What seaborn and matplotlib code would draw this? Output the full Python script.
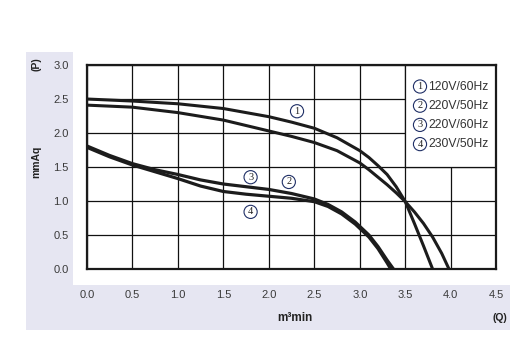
import matplotlib
matplotlib.use("Agg")
import matplotlib.pyplot as plt
import seaborn as sns
from matplotlib.patches import Rectangle

# flow (m3/min) vs static pressure (mmAq)
q1 = [0.0, 0.5, 1.0, 1.5, 2.0, 2.25, 2.5, 2.75, 3.0, 3.1, 3.2, 3.3, 3.4, 3.5, 3.6, 3.7, 3.8]
p1 = [2.50, 2.47, 2.43, 2.36, 2.24, 2.16, 2.07, 1.93, 1.74, 1.64, 1.52, 1.39, 1.21, 0.99, 0.67, 0.34, 0.0]

q2 = [0.0, 0.5, 1.0, 1.5, 2.0, 2.25, 2.5, 2.75, 3.0, 3.1, 3.2, 3.3, 3.4, 3.5, 3.6, 3.7, 3.8, 3.9, 3.98]
p2 = [2.41, 2.38, 2.30, 2.19, 2.03, 1.95, 1.86, 1.74, 1.56, 1.46, 1.35, 1.24, 1.12, 0.99, 0.84, 0.67, 0.47, 0.23, 0.0]

q3 = [0.0, 0.25, 0.5, 0.75, 1.0, 1.25, 1.5, 1.75, 2.0, 2.25, 2.5, 2.65, 2.8, 2.95, 3.1, 3.2, 3.3, 3.37]
p3 = [1.81, 1.67, 1.55, 1.46, 1.39, 1.31, 1.25, 1.21, 1.17, 1.11, 1.03, 0.95, 0.84, 0.69, 0.50, 0.33, 0.13, 0.0]

q4 = [0.0, 0.25, 0.5, 0.75, 1.0, 1.25, 1.5, 1.75, 2.0, 2.25, 2.5, 2.65, 2.8, 2.95, 3.1, 3.2, 3.3, 3.34]
p4 = [1.79, 1.65, 1.53, 1.43, 1.33, 1.22, 1.14, 1.10, 1.07, 1.04, 0.99, 0.92, 0.81, 0.66, 0.47, 0.30, 0.09, 0.0]

legend_labels = ["120V/60Hz", "220V/50Hz", "220V/60Hz", "230V/50Hz"]
x_ticks = [0.0, 0.5, 1.0, 1.5, 2.0, 2.5, 3.0, 3.5, 4.0, 4.5]
y_ticks = [0.0, 0.5, 1.0, 1.5, 2.0, 2.5, 3.0]

sns.set_style("white")
plt.rcParams["font.family"] = ["Liberation Sans", "DejaVu Sans"]

W, H = 530, 357
fig = plt.figure(figsize=(W / 100, H / 100), dpi=100)
fig.patch.set_facecolor("white")

# lavender L-shaped panel behind the axes
fig.patches.append(Rectangle((26 / W, 1 - 330 / H), (510 - 26) / W, (330 - 52) / H,
                             transform=fig.transFigure, fc="#e6e6f2", ec="none", zorder=-10))
fig.patches.append(Rectangle((73 / W, 1 - 285 / H), (W - 73) / W, (285 - 52) / H,
                             transform=fig.transFigure, fc="white", ec="none", zorder=-9))

ax = fig.add_axes([86.8 / W, 1 - 269 / H, (496.3 - 86.8) / W, (269 - 65) / H])
ax.set_facecolor("white")
ax.set_zorder(1)
ax.set_axisbelow(True)

line_color = "#1c1c1c"
for q, p, lw in [(q1, p1, 2.2), (q2, p2, 2.2), (q3, p3, 2.3), (q4, p4, 2.3)]:
    sns.lineplot(x=q, y=p, ax=ax, color=line_color, lw=lw, sort=False,
                 estimator=None, solid_joinstyle="round", solid_capstyle="butt", zorder=3)

ax.set_xlim(0, 4.5)
ax.set_ylim(0, 3.0)
ax.set_xticks(x_ticks)
ax.set_yticks(y_ticks)
ax.set_xticklabels([f"{v:.1f}" for v in x_ticks])
ax.set_yticklabels([f"{v:.1f}" for v in y_ticks])
ax.tick_params(axis="x", length=0, pad=15, labelsize=8, labelcolor="#3a3a3a")
ax.tick_params(axis="y", length=0, pad=13, labelsize=8, labelcolor="#3a3a3a")
ax.grid(True, color="#111111", lw=0.9)
for s in ax.spines.values():
    s.set_visible(True)
    s.set_color("#1a1a1a")
    s.set_linewidth(1.6)
    s.set_zorder(4)
ax.set_xlabel("")
ax.set_ylabel("")

# white legend panel bounded by the 3.5 / 1.5 grid lines
ax.add_patch(Rectangle((3.5, 1.5), 1.0, 1.5, fc="white", ec="#111111", lw=0.9, zorder=2))

# circled curve numbers
circle_kw = dict(boxstyle="circle,pad=0.2", fc="white", ec="#1f2f66", lw=0.8)


def circled(x, y, s, transform):
    ax.text(x, y, s, transform=transform, ha="center", va="center", fontsize=7.5,
            family="Liberation Serif", color="#222222", bbox=circle_kw, zorder=5)


circled(2.31, 2.32, "1", ax.transData)
circled(2.22, 1.28, "2", ax.transData)
circled(1.80, 1.35, "3", ax.transData)
circled(1.80, 0.84, "4", ax.transData)

# legend entries
for i, lab in enumerate(legend_labels):
    py = 86.5 + i * 19.2
    yy = 1 - py / H
    fig.text(420 / W, yy, str(i + 1), ha="center", va="center", fontsize=7.5,
             family="Liberation Serif", color="#222222", bbox=circle_kw, zorder=6)
    fig.text(428 / W, yy, lab, ha="left", va="center", fontsize=8.7, color="#333333",
             zorder=6)

# axis titles
fig.text(36 / W, 1 - 162 / H, "mmAq", rotation=90, ha="center", va="center",
         fontsize=7.5, fontweight="bold", color="#222222")
fig.text(36 / W, 1 - 64 / H, "(P)", rotation=90, ha="center", va="center",
         fontsize=7.5, fontweight="bold", color="#222222")
fig.text(295 / W, 1 - 318 / H, "m³min", ha="center", va="center",
         fontsize=8.5, fontweight="bold", color="#222222")
fig.text(500 / W, 1 - 318 / H, "(Q)", ha="center", va="center",
         fontsize=7.5, fontweight="bold", color="#222222")

fig.savefig("out.png", dpi=100, facecolor="white")
